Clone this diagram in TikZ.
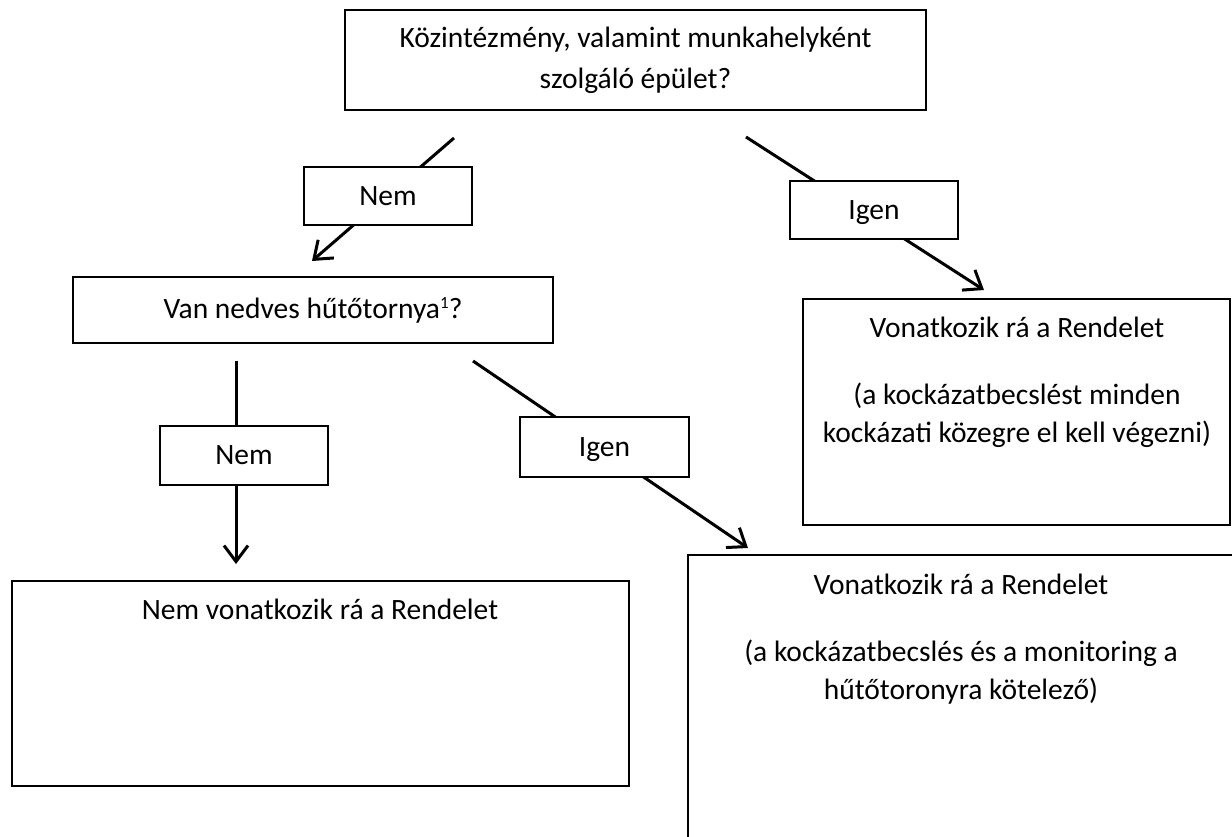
\documentclass[tikz,border=0pt]{standalone}
\usepackage{fontspec}
\setmainfont{Carlito}
\usetikzlibrary{arrows.meta}
\tikzset{
  box/.style={draw, line width=1.8pt, fill=white, inner sep=0pt, align=center, font=\fontsize{29.5}{41}\selectfont},
  answer/.style={box, minimum width=168, text depth=0pt},
  txt/.style={inner sep=0pt, align=center, font=\fontsize{29.5}{38}\selectfont},
  arr/.style={line width=3pt, -{Straight Barb[length=16pt,width=24pt]}}
}
\newcommand{\fnmark}[1]{\raisebox{10pt}{\fontsize{17}{17}\selectfont #1}}
\begin{document}
\begin{tikzpicture}[x=1pt,y=-1pt]
    \useasboundingbox (0,0) rectangle (1232,836);
    \clip (0,0) rectangle (1232,836);

    \coordinate (nemA) at (454,138);
    \coordinate (nemB) at (312,261);
    \coordinate (igenA) at (746,137);
    \coordinate (igenB) at (984,290);
    \coordinate (nem2A) at (236,361);
    \coordinate (nem2B) at (236,564);
    \coordinate (igen2A) at (473,361);
    \coordinate (igen2B) at (748,548);

    \draw[arr] (nemA) -- (nemB);
    \draw[arr] (igenA) -- (igenB);
    \draw[arr] (nem2A) -- (nem2B);
    \draw[arr] (igen2A) -- (igen2B);

    \node[box, minimum width=581, minimum height=100] (kozint) at (635.5,60) {Közintézmény, valamint munkahelyként\\szolgáló épület?};
    \node[answer, minimum height=58] (nem1) at (388,196) {Nem};
    \node[answer, minimum height=58] (igen1) at (874,210) {Igen};
    \node[box, minimum width=480, minimum height=66] (hutotorony) at (313,310) {Van nedves hűtőtornya\fnmark{1}?};
    \node[answer, minimum height=59] (nem2) at (244,455.5) {Nem};
    \node[answer, minimum width=169, minimum height=60] (igen2) at (604.5,447) {Igen};

    \node[box, minimum width=427, minimum height=226] (vonatkozik1) at (1016.5,412) {};
    \node[txt, anchor=base] (vonatkozik1txt) at (1017,442) {Vonatkozik rá a Rendelet\\[29pt](a kockázatbecslést minden\\kockázati közegre el kell végezni)};

    \node[box, minimum width=617, minimum height=205] (nemvon) at (320.5,683.5) {};
    \node[txt, anchor=base] (nemvontxt) at (320,619) {Nem vonatkozik rá a Rendelet};

    \node[box, minimum width=546, minimum height=295] (vonatkozik2) at (961,702.5) {};
    \node[txt, anchor=base] (vonatkozik2txt) at (961,699) {Vonatkozik rá a Rendelet\\[29pt](a kockázatbecslés és a monitoring a\\hűtőtoronyra kötelező)};
\end{tikzpicture}
\end{document}
